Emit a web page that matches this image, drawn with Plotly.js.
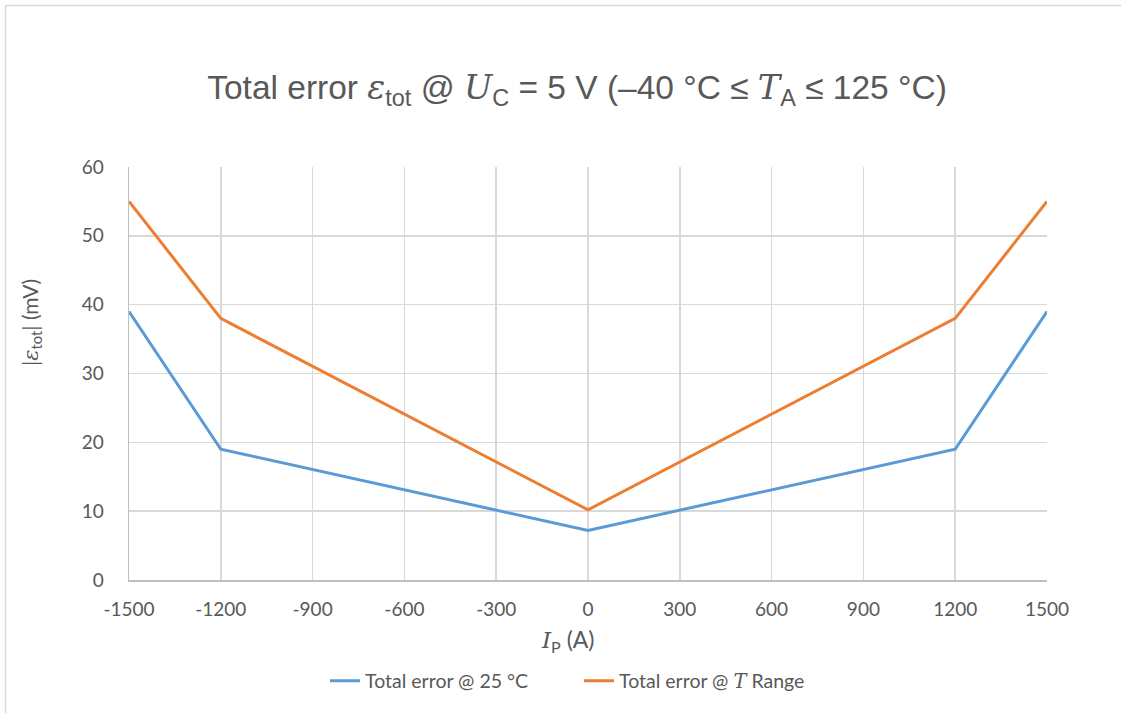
<!DOCTYPE html>
<html>
<head>
<meta charset="utf-8">
<script src="https://cdn.plot.ly/plotly-3.0.1.min.js"></script>
<style>html,body{margin:0;padding:0;background:#fff;}#chart{width:1121px;height:713px;}</style>
</head>
<body>
<div id="chart"></div>
<script>
const currentA = [-1500, -1200, 0, 1200, 1500];
const error25C = [39, 19, 7.2, 19, 39];
const errorTRange = [55, 38, 10.2, 38, 55];
const xTicks = [-1500, -1200, -900, -600, -300, 0, 300, 600, 900, 1200, 1500];
const yTicks = [0, 10, 20, 30, 40, 50, 60];

const serif = "font-family:'DejaVu Serif',serif";
const traces = [
  {x: currentA, y: error25C, type: 'scatter', mode: 'lines', name: 'Total error @ 25 °C',
   line: {color: '#5b9bd5', width: 3}},
  {x: currentA, y: errorTRange, type: 'scatter', mode: 'lines',
   name: 'Total error @ <i><span style="' + serif + '">T</span></i> Range',
   line: {color: '#ed7d31', width: 3}}
];

const W = 918, H = 413, L = 129, T = 167;
const px = v => (v - L) / W;
const py = v => (580 - v) / H;
const layout = {
  width: 1121, height: 713,
  margin: {l: 129, r: 74, t: 167, b: 133, pad: 0},
  paper_bgcolor: '#ffffff', plot_bgcolor: '#ffffff',
  font: {family: "Lato, 'Open Sans', sans-serif", color: '#595959', size: 18},
  title: {
    text: 'Total error <i><span style="' + serif + '">ε</span></i><sub>tot</sub> @ <i><span style="' + serif + '">U</span></i><sub>C</sub> = 5 V (–40 °C ≤ <i><span style="' + serif + '">T</span></i><sub>A</sub> ≤ 125 °C)',
    font: {family: "'Liberation Sans Narrow', 'Liberation Sans', Arial, sans-serif", size: 33.5, color: '#595959'},
    x: 0.5 - 11 / W, xanchor: 'center', y: 1 - 87 / 713, yanchor: 'middle', xref: 'paper'
  },
  xaxis: {
    range: [-1500, 1500], tickvals: xTicks, ticktext: xTicks.map(String),
    showgrid: true, gridcolor: '#d9d9d9', gridwidth: 1.5,
    showline: true, linecolor: '#bfbfbf', linewidth: 1.5,
    zeroline: false, ticks: '', ticklen: 0, ticklabelstandoff: 12,
    tickfont: {size: 19, color: '#595959'}
  },
  yaxis: {
    range: [0, 60], tickvals: yTicks, ticktext: yTicks.map(String),
    showgrid: true, gridcolor: '#d9d9d9', gridwidth: 1.5,
    showline: true, linecolor: '#bfbfbf', linewidth: 1.5,
    zeroline: false, ticks: '', ticklen: 0, ticklabelstandoff: 20,
    tickfont: {size: 19, color: '#595959'}
  },
  annotations: [
    {text: '<i><span style="' + serif + '">I</span></i><sub>P</sub> (A)', xref: 'paper', yref: 'paper',
     x: px(568), y: py(640), xanchor: 'center', yanchor: 'middle', showarrow: false,
     font: {size: 23, color: '#595959'}},
    {text: '|<i><span style="' + serif + '">ε</span></i><sub>tot</sub>| (mV)', xref: 'paper', yref: 'paper',
     x: px(31), y: py(323), xanchor: 'center', yanchor: 'middle', showarrow: false, textangle: -90,
     font: {size: 21, color: '#595959'}}
  ],
  legend: {
    orientation: 'h', x: px(325), xanchor: 'left', y: py(681), yanchor: 'middle',
    font: {size: 19.5, color: '#595959'}, bgcolor: 'rgba(0,0,0,0)', entrywidth: 209, entrywidthmode: 'pixels'
  },
  showlegend: true,
  shapes: [
    {type: 'rect', xref: 'paper', yref: 'paper',
     x0: px(5.5), x1: px(1130),
     y0: py(720), y1: py(5.5),
     line: {color: '#d9d9d9', width: 1.5}, fillcolor: 'rgba(0,0,0,0)', layer: 'below'}
  ]
};

Plotly.newPlot('chart', traces, layout, {displayModeBar: false, staticPlot: true});
</script>
</body>
</html>
